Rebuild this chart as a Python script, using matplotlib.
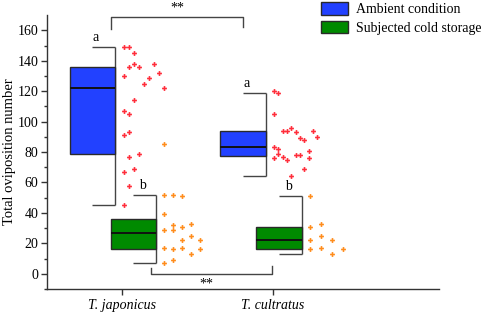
import matplotlib
matplotlib.use("Agg")
import matplotlib.pyplot as plt
from matplotlib.patches import Patch
import numpy as np

plt.rcParams["font.family"] = ["Liberation Serif", "DejaVu Serif"]
plt.rcParams["font.size"] = 10

groups = ["T. japonicus", "T. cultratus"]
series = ["Ambient condition", "Subjected cold storage"]

# box statistics (japonicus, cultratus)
amb_q1 = [79, 77.5]
amb_med = [122, 83]
amb_q3 = [136, 94]
amb_lo = [45, 64]
amb_hi = [149, 119]
cold_q1 = [16.5, 16]
cold_med = [27, 22]
cold_q3 = [36, 30.8]
cold_lo = [7, 13]
cold_hi = [52, 51]

# raw points and their swarm column
amb_jap_vals = [149, 149, 145, 136, 138, 136, 138, 130, 132, 129, 125, 122,
                114, 107, 105, 91, 93, 77, 79, 67, 69, 58, 45]
amb_jap_cols = [0, 1, 2, 1, 2, 3, 6, 0, 7, 5, 4, 8, 2, 0, 1, 0, 1, 1, 3, 0, 2, 1, 0]
cold_jap_vals = [52, 52, 51, 39, 29, 29, 32, 31, 33, 22, 25, 22, 17, 16, 17,
                 16, 13, 7, 9, 85]
cold_jap_cols = [0, 1, 2, 0, 0, 1, 1, 2, 3, 2, 3, 4, 0, 1, 2, 4, 3, 0, 1, 0]
amb_cult_vals = [120, 119, 105, 94, 94, 96, 93, 89, 88, 94, 90, 83, 82, 79,
                 76, 77, 75, 78, 78, 81, 76, 69, 64]
amb_cult_cols = [0, 1, 0, 2, 3, 4, 5, 6, 7, 9, 10, 0, 1, 1, 0, 2, 3, 5, 6, 8, 8, 7, 4]
cold_cult_vals = [51, 30.6, 33, 22, 25, 22, 16, 17, 13, 16]
cold_cult_cols = [0, 0, 1, 0, 1, 2, 0, 1, 2, 3]

letters_amb = ["a", "a"]
letters_cold = ["b", "b"]

# layout
px = 1 / 151.0
box_w = 0.30
amb_right = [0.954, 1.952]
cold_right = [1.225, 2.19]
amb_step = [5.1 * px, 4.3 * px]
cold_step = [8.9 * px, 11.0 * px]
gap = 8.5 * px

blue = "#2241ff"
green = "#008a00"
red = "#ff2d3a"
orange = "#ff8c1c"
dark = "#2a2a2a"

fig = plt.figure(figsize=(4.84, 3.13), dpi=100)
ax = fig.add_axes([0.097, 0.0767, 0.81, 0.875])


def half_box(right, q1, med, q3, lo, hi, color):
    left = [r - box_w for r in right]
    ax.bar(left, np.array(q3) - np.array(q1), width=box_w, bottom=q1,
           align="edge", color=color, edgecolor=dark, linewidth=1.0, zorder=2)
    ax.hlines(med, left, right, color="#111111", linewidth=1.4, zorder=3)
    ax.vlines(right, lo, hi, color="#444444", linewidth=1.0, zorder=1)
    caps_l = [r - box_w / 2 for r in right]
    ax.hlines(lo, caps_l, right, color="#444444", linewidth=1.0, zorder=1)
    ax.hlines(hi, caps_l, right, color="#444444", linewidth=1.0, zorder=1)


half_box(amb_right, amb_q1, amb_med, amb_q3, amb_lo, amb_hi, blue)
half_box(cold_right, cold_q1, cold_med, cold_q3, cold_lo, cold_hi, green)

pts = [
    (amb_jap_vals, amb_jap_cols, amb_right[0], amb_step[0], red),
    (amb_cult_vals, amb_cult_cols, amb_right[1], amb_step[1], red),
    (cold_jap_vals, cold_jap_cols, cold_right[0], cold_step[0], orange),
    (cold_cult_vals, cold_cult_cols, cold_right[1], cold_step[1], orange),
]
for vals, cols, r, step, c in pts:
    xs = r + gap + np.array(cols) * step
    ax.plot(xs, vals, linestyle="none", marker="P", markersize=3.5,
            color=c, markeredgewidth=0, zorder=4)

# letters above the whisker caps
for i in range(2):
    ax.text(amb_right[i] - box_w * 0.42, amb_hi[i] + 2, letters_amb[i],
            ha="center", va="bottom", fontsize=10)
    ax.text(cold_right[i] - box_w * 0.3, cold_hi[i] + 2, letters_cold[i],
            ha="center", va="bottom", fontsize=10)

# significance brackets
ax.plot([0.927, 0.927, 1.801, 1.801], [160.9, 168.7, 168.7, 162.2],
        color="#444444", linewidth=1.0, clip_on=False)
ax.text(1.364, 170.5, "**", ha="center", va="bottom", fontsize=10)
ax.plot([1.192, 1.192, 1.991, 1.991], [3.9, -0.3, -0.3, 5.2],
        color="#444444", linewidth=1.0, clip_on=False)
ax.text(1.56, -2.5, "**", ha="center", va="top", fontsize=10)

ax.set_xlim(0.503, 3.1)
ax.set_ylim(-10, 170)
ax.set_xticks([1, 2])
ax.set_xticklabels(groups, fontstyle="italic")
ax.set_yticks(np.arange(0, 161, 20))
ax.set_yticks(np.arange(-10, 170, 10), minor=True)
ax.tick_params(axis="y", which="major", length=4, width=1, pad=2, color="#333333")
ax.tick_params(axis="y", which="minor", length=2.2, width=1, color="#333333")
ax.tick_params(axis="x", which="major", length=4, width=1, pad=3, color="#333333")
for s in ["top", "right"]:
    ax.spines[s].set_visible(False)
for s in ["left", "bottom"]:
    ax.spines[s].set_color("#333333")
    ax.spines[s].set_linewidth(1.0)
ax.set_ylabel("Total oviposition number", fontsize=10.5, labelpad=1)

handles = [Patch(facecolor=blue, edgecolor=dark, linewidth=1.0),
           Patch(facecolor=green, edgecolor=dark, linewidth=1.0)]
fig.legend(handles, series, loc="upper left", bbox_to_anchor=(0.658, 1.0),
           frameon=False, fontsize=10, handlelength=2.0, handleheight=1.0,
           handletextpad=0.55, labelspacing=0.35, borderaxespad=0,
           borderpad=0.15)

fig.savefig("out.png", dpi=100)
